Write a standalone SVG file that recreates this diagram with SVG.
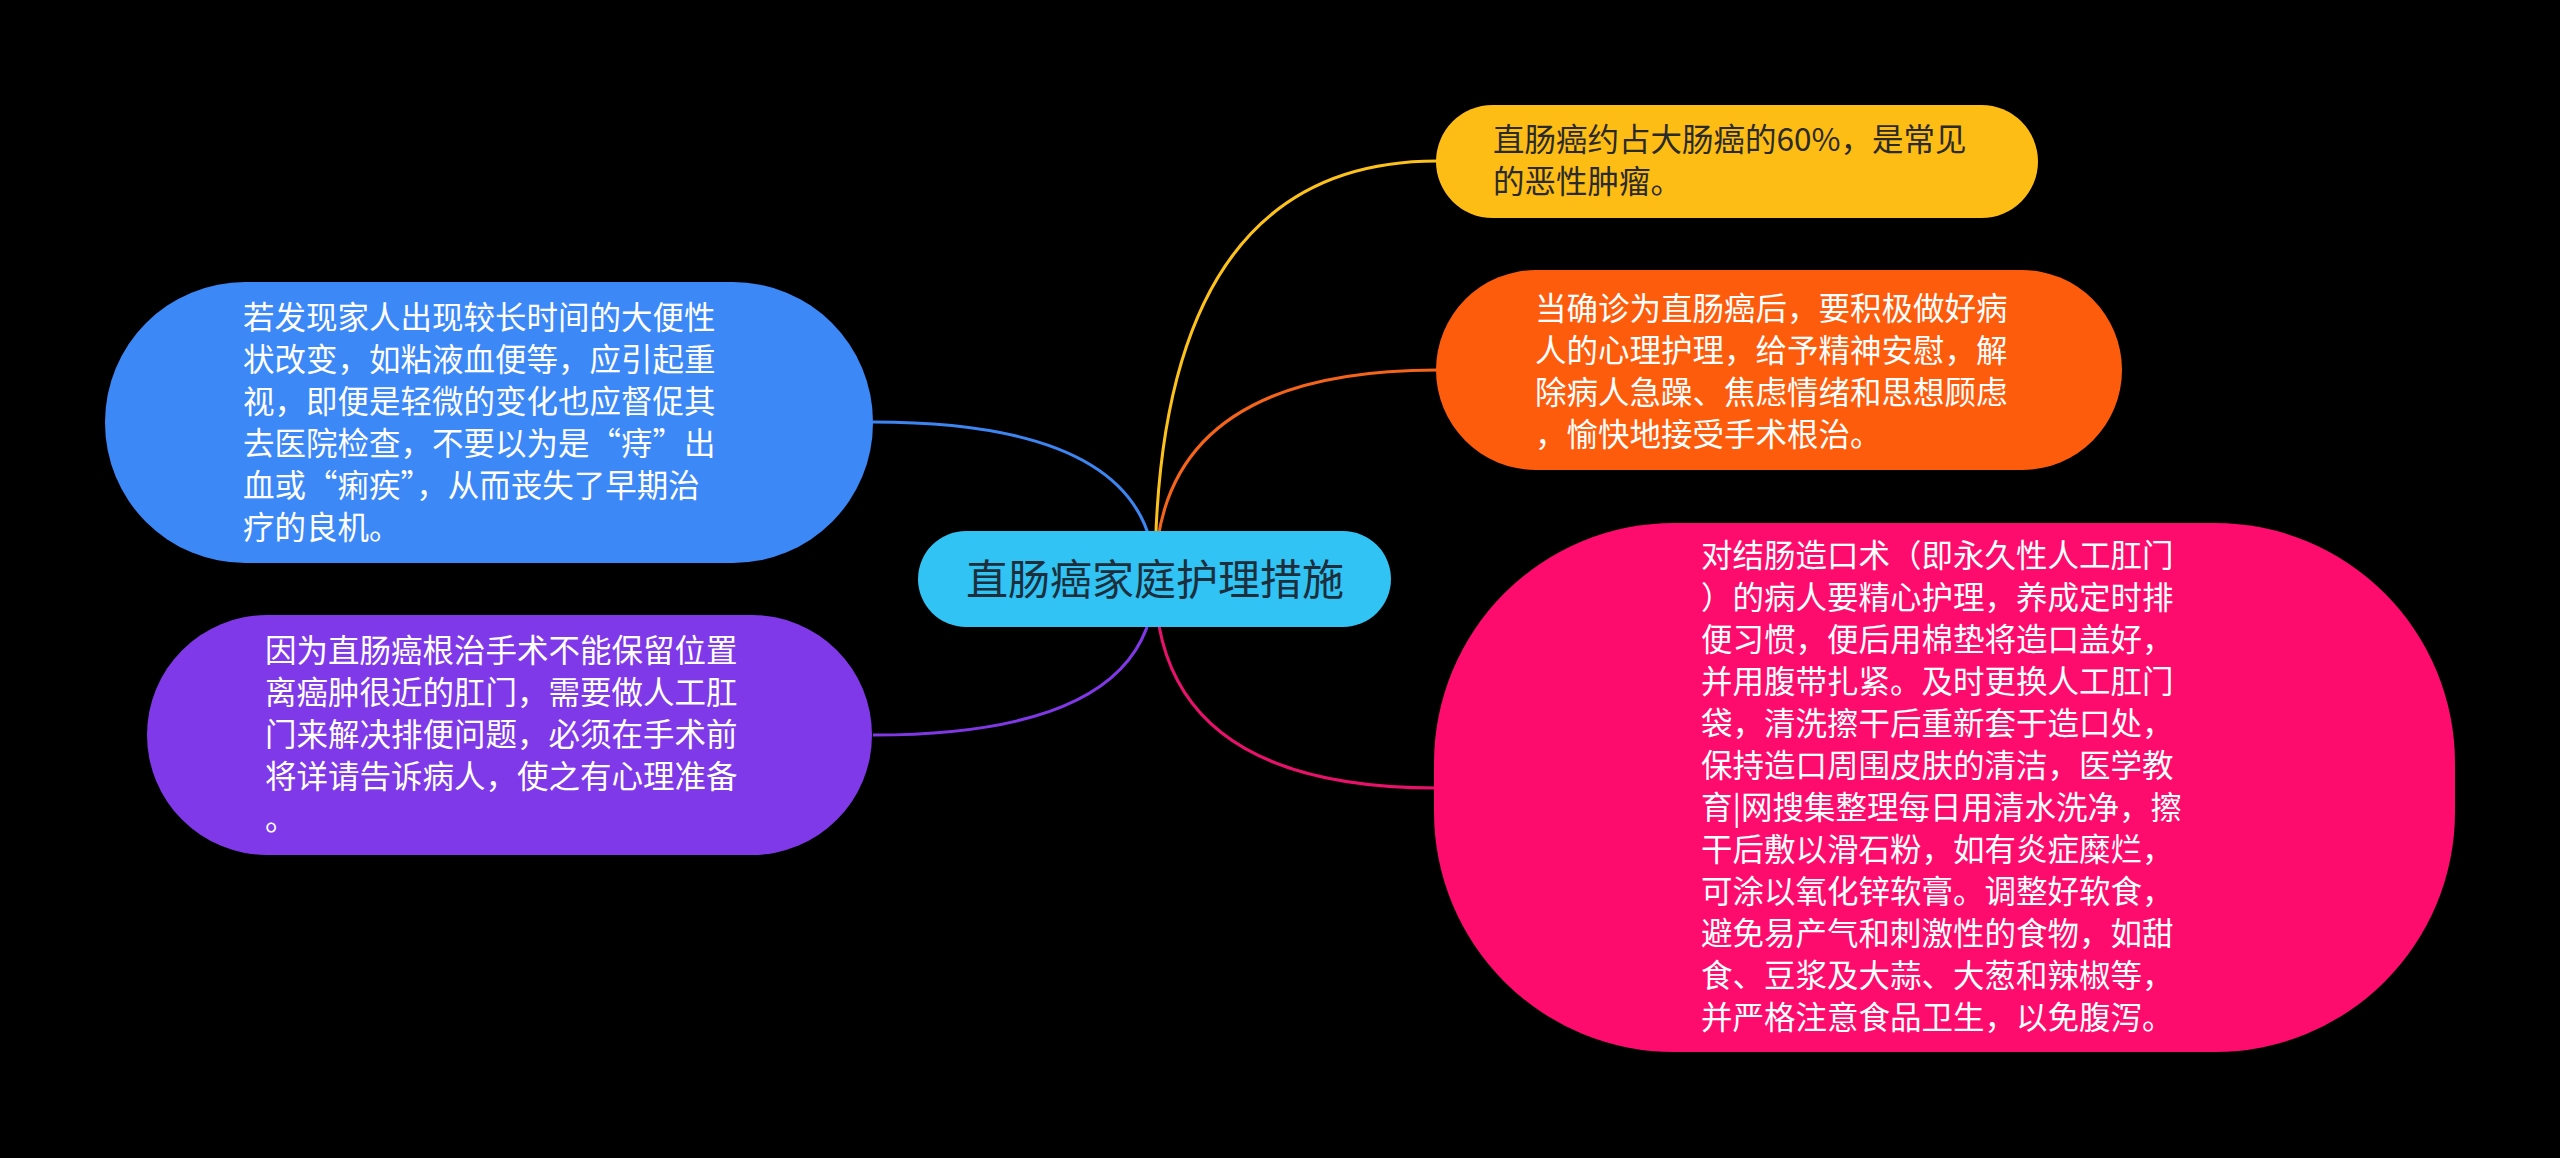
<svg xmlns="http://www.w3.org/2000/svg" width="2560" height="1158" viewBox="0 0 2560 1158">
  <style>
    .t { font-family: "Noto Sans CJK SC", "Noto Sans", sans-serif; font-size: 31.5px; fill: #ffffff; }
    .dark { fill: #2a2a2a; }
    .ctr { font-family: "Noto Sans CJK SC", "Noto Sans", sans-serif; font-size: 42px; fill: #1d2f3d; text-anchor: middle; }
    .edge { fill: none; stroke-width: 3; }
  </style>
  <rect x="0" y="0" width="2560" height="1158" fill="#000000"/>
  <g id="connectors">
    <path class="edge" stroke="#FCC21B" d="M1155,579 Q1155,161 1437,161"/>
    <path class="edge" stroke="#F4641A" d="M1155,579 Q1155,370 1437,370"/>
    <path class="edge" stroke="#E8126A" d="M1155,579 Q1155,788 1437,788"/>
    <path class="edge" stroke="#3D86F2" d="M1155,579 Q1155,422 873,422"/>
    <path class="edge" stroke="#8038E6" d="M1155,579 Q1155,735 873,735"/>
  </g>
  <g id="center">
    <rect x="918" y="531" width="473" height="96" rx="48" ry="48" fill="#30C3F3"/>
    <text class="ctr" x="1155" y="595">直肠癌家庭护理措施</text>
  </g>
  <g id="node-yellow">
    <rect x="1436" y="105" width="602" height="113" rx="56.5" ry="56.5" fill="#FDBD15"/>
    <text class="t dark" x="1493"><tspan x="1493" y="151">直肠癌约占大肠癌的60%，是常见</tspan><tspan x="1493" y="193">的恶性肿瘤。</tspan></text>
  </g>
  <g id="node-orange">
    <rect x="1436" y="270" width="686" height="200" rx="100" ry="100" fill="#FD5C0C"/>
    <text class="t" x="1535"><tspan x="1535" y="320">当确诊为直肠癌后，要积极做好病</tspan><tspan x="1535" y="362">人的心理护理，给予精神安慰，解</tspan><tspan x="1535" y="404">除病人急躁、焦虑情绪和思想顾虑</tspan><tspan x="1535" y="446">，愉快地接受手术根治。</tspan></text>
  </g>
  <g id="node-pink">
    <rect x="1434" y="523" width="1021" height="529" rx="240" ry="240" fill="#FD0B6D"/>
    <text class="t" x="1701"><tspan x="1701" y="567">对结肠造口术（即永久性人工肛门</tspan><tspan x="1701" y="609">）的病人要精心护理，养成定时排</tspan><tspan x="1701" y="651">便习惯，便后用棉垫将造口盖好，</tspan><tspan x="1701" y="693">并用腹带扎紧。及时更换人工肛门</tspan><tspan x="1701" y="735">袋，清洗擦干后重新套于造口处，</tspan><tspan x="1701" y="777">保持造口周围皮肤的清洁，医学教</tspan><tspan x="1701" y="819">育|网搜集整理每日用清水洗净，擦</tspan><tspan x="1701" y="861">干后敷以滑石粉，如有炎症糜烂，</tspan><tspan x="1701" y="903">可涂以氧化锌软膏。调整好软食，</tspan><tspan x="1701" y="945">避免易产气和刺激性的食物，如甜</tspan><tspan x="1701" y="987">食、豆浆及大蒜、大葱和辣椒等，</tspan><tspan x="1701" y="1029">并严格注意食品卫生，以免腹泻。</tspan></text>
  </g>
  <g id="node-blue">
    <rect x="105" y="282" width="768" height="281" rx="140" ry="140" fill="#3C88F7"/>
    <text class="t" x="243"><tspan x="243" y="329">若发现家人出现较长时间的大便性</tspan><tspan x="243" y="371">状改变，如粘液血便等，应引起重</tspan><tspan x="243" y="413">视，即便是轻微的变化也应督促其</tspan><tspan x="243" y="455">去医院检查，不要以为是“痔”出</tspan><tspan x="243" y="497">血或“痢疾”，从而丧失了早期治</tspan><tspan x="243" y="539">疗的良机。</tspan></text>
  </g>
  <g id="node-purple">
    <rect x="147" y="615" width="725" height="240" rx="120" ry="120" fill="#8039E8"/>
    <text class="t" x="265"><tspan x="265" y="662">因为直肠癌根治手术不能保留位置</tspan><tspan x="265" y="704">离癌肿很近的肛门，需要做人工肛</tspan><tspan x="265" y="746">门来解决排便问题，必须在手术前</tspan><tspan x="265" y="788">将详请告诉病人，使之有心理准备</tspan><tspan x="265" y="830">。</tspan></text>
  </g>
</svg>
